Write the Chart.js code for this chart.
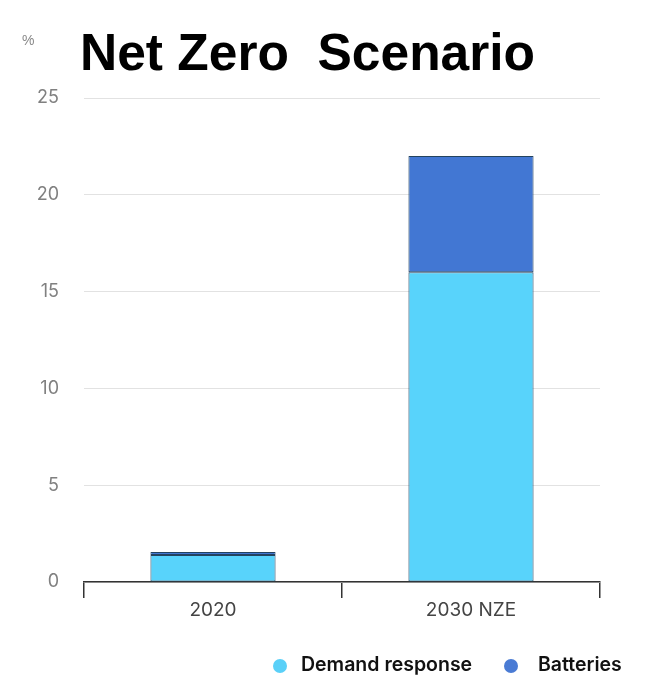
<!DOCTYPE html>
<html>
<head>
<meta charset="utf-8">
<script src="https://cdn.jsdelivr.net/npm/chart.js@4"></script>
<style>
html,body{margin:0;padding:0;background:#fff;}
#wrap{width:664px;height:680px;position:relative;}
</style>
</head>
<body>
<div id="wrap"><canvas id="c"></canvas></div>
<script>
const categories = ["2020", "2030 NZE"];
const demandResponse = [1.4, 16];
const batteries = [0.15, 6];
const yTicks = [0, 5, 10, 15, 20, 25];
const titleText = "Net Zero  Scenario";
const unitText = "%";
const seriesNames = ["Demand response", "Batteries"];

const colDemand = "#58D3FB";
const colBatt = "#4277D3";

const decor = {
  id: "decor",
  afterDraw(chart) {
    const ctx = chart.ctx;
    ctx.save();
    ctx.fillStyle = "#000";
    ctx.font = "bold 51.5px 'Liberation Sans', Arial, sans-serif";
    ctx.textBaseline = "alphabetic";
    ctx.textAlign = "left";
    ctx.fillText(titleText, 80, 70);
    ctx.fillStyle = "#888";
    ctx.font = "14px 'Liberation Sans', Arial, sans-serif";
    ctx.fillText(unitText, 22, 45);
    // legend
    const items = chart.data.datasets.map(d => ({label: d.label, color: d.legendColor}));
    const xs = [280, 511];
    const tx = [301, 538];
    ctx.font = "600 19.5px Inter, 'Noto Sans', sans-serif";
    ctx.textBaseline = "middle";
    items.forEach((it, i) => {
      ctx.fillStyle = it.color;
      ctx.beginPath();
      ctx.arc(xs[i], 666, 7, 0, Math.PI * 2);
      ctx.fill();
      ctx.fillStyle = "#111";
      ctx.fillText(it.label, tx[i], 665);
    });
    ctx.restore();
  }
};

new Chart(document.getElementById("c"), {
  type: "bar",
  data: {
    labels: categories,
    datasets: [
      { label: seriesNames[0], data: demandResponse, backgroundColor: colDemand, legendColor: "#5AD0F8",
        borderColor: "#23435F", borderWidth: 1, borderSkipped: false, barPercentage: 0.485, categoryPercentage: 1 },
      { label: seriesNames[1], data: batteries, backgroundColor: colBatt, legendColor: "#4A7BD4",
        borderColor: "#23435F", borderWidth: 1, borderSkipped: false, barPercentage: 0.485, categoryPercentage: 1 }
    ]
  },
  options: {
    responsive: true,
    maintainAspectRatio: false,
    animation: false,
    devicePixelRatio: 1,
    layout: { padding: { top: 98, right: 64, left: 0, bottom: 0 } },
    plugins: { legend: { display: false }, title: { display: false }, tooltip: { enabled: false } },
    scales: {
      x: {
        stacked: true,
        afterFit(s) { s.height = 98; },
        border: { display: true, color: "#333", width: 1.5 },
        grid: { offset: true, drawOnChartArea: false, drawTicks: true, tickLength: 16, color: "#333", lineWidth: 1.5 },
        ticks: { color: "#444", padding: 1, font: { family: "Inter, 'Noto Sans', sans-serif", size: 19 } }
      },
      y: {
        stacked: true,
        min: 0, max: 25,
        afterFit(s) { s.width = 84; },
        afterBuildTicks(s) { s.ticks = yTicks.map(v => ({ value: v })); },
        border: { display: false },
        grid: { color: "#e2e2e2", lineWidth: 1, drawTicks: false },
        ticks: { color: "#808080", padding: 25, font: { family: "Inter, 'Noto Sans', sans-serif", size: 18 } }
      }
    }
  },
  plugins: [decor]
});
</script>
</body>
</html>
